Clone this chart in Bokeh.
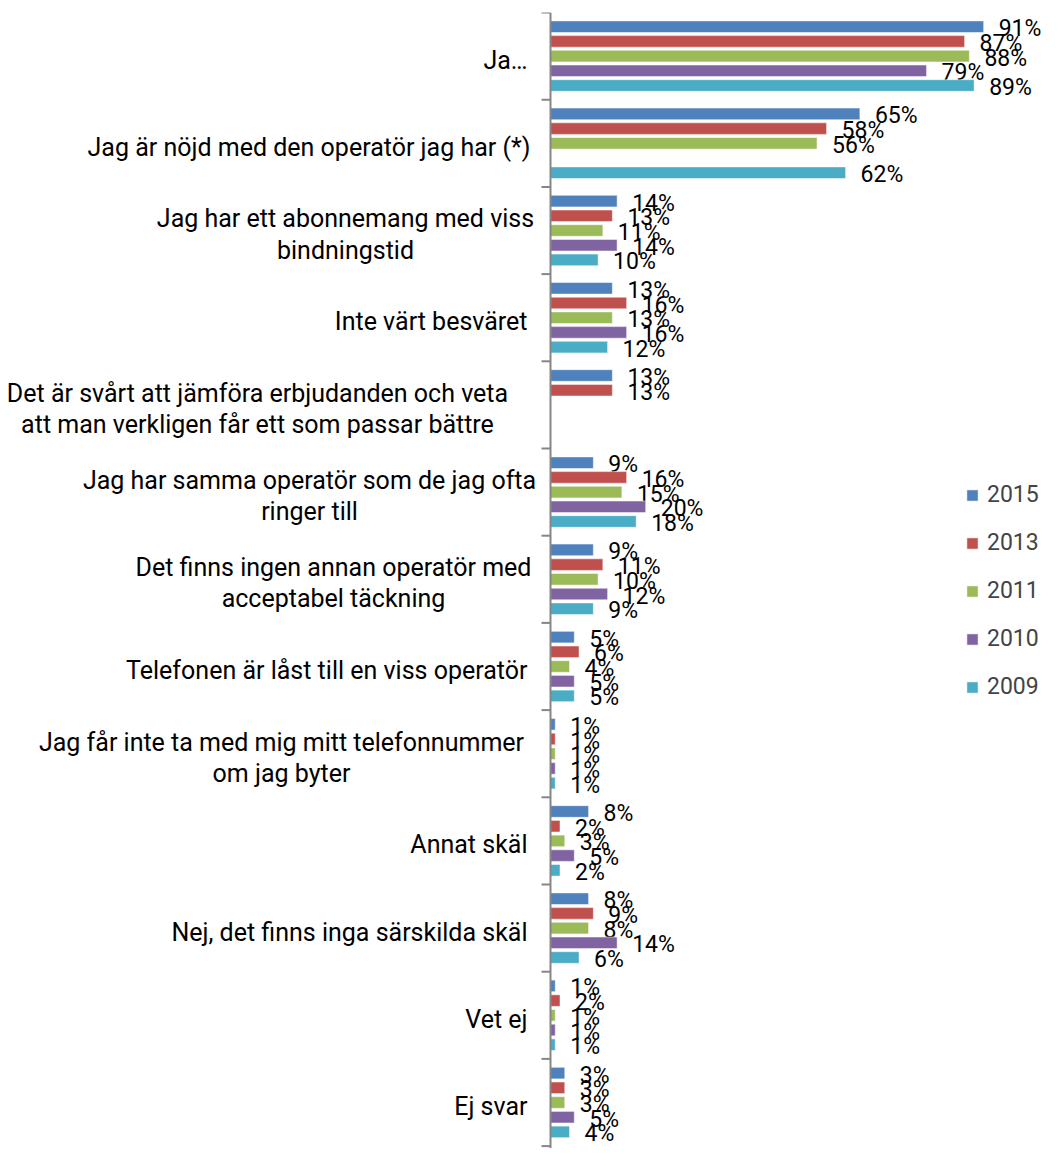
from bokeh.plotting import figure
from bokeh.models import Range1d, Span, Legend, LegendItem, ColumnDataSource
from bokeh.core.properties import value
from bokeh.embed import file_html
from bokeh.resources import INLINE

# ---------------- data ----------------
categories = [
    "Ja…",
    "Jag är nöjd med den operatör jag har (*)",
    "Jag har ett abonnemang med viss\nbindningstid",
    "Inte värt besväret",
    "Det är svårt att jämföra erbjudanden och veta\natt man verkligen får ett som passar bättre",
    "Jag har samma operatör som de jag ofta\nringer till",
    "Det finns ingen annan operatör med\nacceptabel täckning",
    "Telefonen är låst till en viss operatör",
    "Jag får inte ta med mig mitt telefonnummer\nom jag byter",
    "Annat skäl",
    "Nej, det finns inga särskilda skäl",
    "Vet ej",
    "Ej svar",
]
years = ["2015", "2013", "2011", "2010", "2009"]
v2015 = [91, 65, 14, 13, 13, 9, 9, 5, 1, 8, 8, 1, 3]
v2013 = [87, 58, 13, 16, 13, 16, 11, 6, 1, 2, 9, 2, 3]
v2011 = [88, 56, 11, 13, None, 15, 10, 4, 1, 3, 8, 1, 3]
v2010 = [79, None, 14, 16, None, 20, 12, 5, 1, 5, 14, 1, 5]
v2009 = [89, 62, 10, 12, None, 18, 9, 5, 1, 2, 6, 1, 4]
series = [v2015, v2013, v2011, v2010, v2009]
colors = ["#4F81BD", "#C0504D", "#9BBB59", "#8064A2", "#4BACC6"]

# ---------------- layout ----------------
W, H = 1042, 1148
TOP = 12
AXIS_PX = 550          # axis position from figure left (px)
PX_PER_PCT = 4.76
CAT_PX = 87.2
BAR_STEP = 14.7 / CAT_PX
BAR_H = 11.6 / CAT_PX
FONT = "Roboto"
FS_CAT = "25px"
FS_VAL = "23px"
# label anchor (px from figure left) and alignment per category
label_anchor = [527, 530, 345, 527, 257, 309, 333, 527, 281, 527, 527, 527, 527]
label_align = ["right", "right", "center", "right", "center", "center", "center",
               "right", "center", "right", "right", "right", "right"]

def px2x(px):
    return (px - AXIS_PX) / PX_PER_PCT

frame_h = H - TOP
p = figure(width=W, height=H, output_backend="svg", toolbar_location=None,
           x_range=Range1d(px2x(0), px2x(W)),
           y_range=Range1d(frame_h / CAT_PX, 0),
           x_axis_location=None, y_axis_location=None,
           min_border_left=0, min_border_right=0, min_border_top=TOP,
           min_border_bottom=0)
p.grid.visible = False
p.outline_line_color = None
p.background_fill_color = "white"

n = len(categories)
items = []
for k, (yr, vals, col) in enumerate(zip(years, series, colors)):
    ys, xs, txt = [], [], []
    for i, v in enumerate(vals):
        if v is None:
            continue
        ys.append(i + 0.5 + (k - 2) * BAR_STEP)
        xs.append(v)
        txt.append(f"{v}%")
    src = ColumnDataSource(dict(y=ys, right=xs, text=txt))
    r = p.hbar(y="y", left=0, right="right", height=BAR_H, source=src,
               fill_color=col, line_color="white", line_alpha=0.5, line_width=1)
    items.append(LegendItem(label=yr, renderers=[r]))
    p.text(x="right", y="y", text="text", source=src, x_offset=15, y_offset=2,
           text_align="left", text_baseline="middle", text_font=value(FONT),
           text_font_size=FS_VAL, text_color="black")

# category labels
for align in ("right", "center"):
    xs = [px2x(label_anchor[i]) for i in range(n) if label_align[i] == align]
    ys = [i + 0.5 + 4 / CAT_PX for i in range(n) if label_align[i] == align]
    tx = [categories[i] for i in range(n) if label_align[i] == align]
    p.text(x=xs, y=ys, text=tx, text_align=align, text_baseline="middle",
           text_font=value(FONT), text_font_size=FS_CAT, text_color="black",
           text_line_height=1.07)

# category axis
p.add_layout(Span(location=0, dimension="height", line_color="#868686", line_width=2))
p.segment(x0=[px2x(AXIS_PX - 9)] * (n + 1), x1=[0] * (n + 1),
          y0=list(range(n + 1)), y1=list(range(n + 1)),
          line_color="#868686", line_width=2)

legend = Legend(items=items, location=(965, 448), orientation="vertical",
                glyph_width=14, glyph_height=14, label_standoff=8, spacing=21,
                padding=0, margin=0, border_line_color=None,
                background_fill_alpha=0, label_text_font=FONT,
                label_text_font_size=FS_VAL, label_height=20)
p.add_layout(legend, "center")

open("out.html", "w").write(file_html(p, INLINE))
